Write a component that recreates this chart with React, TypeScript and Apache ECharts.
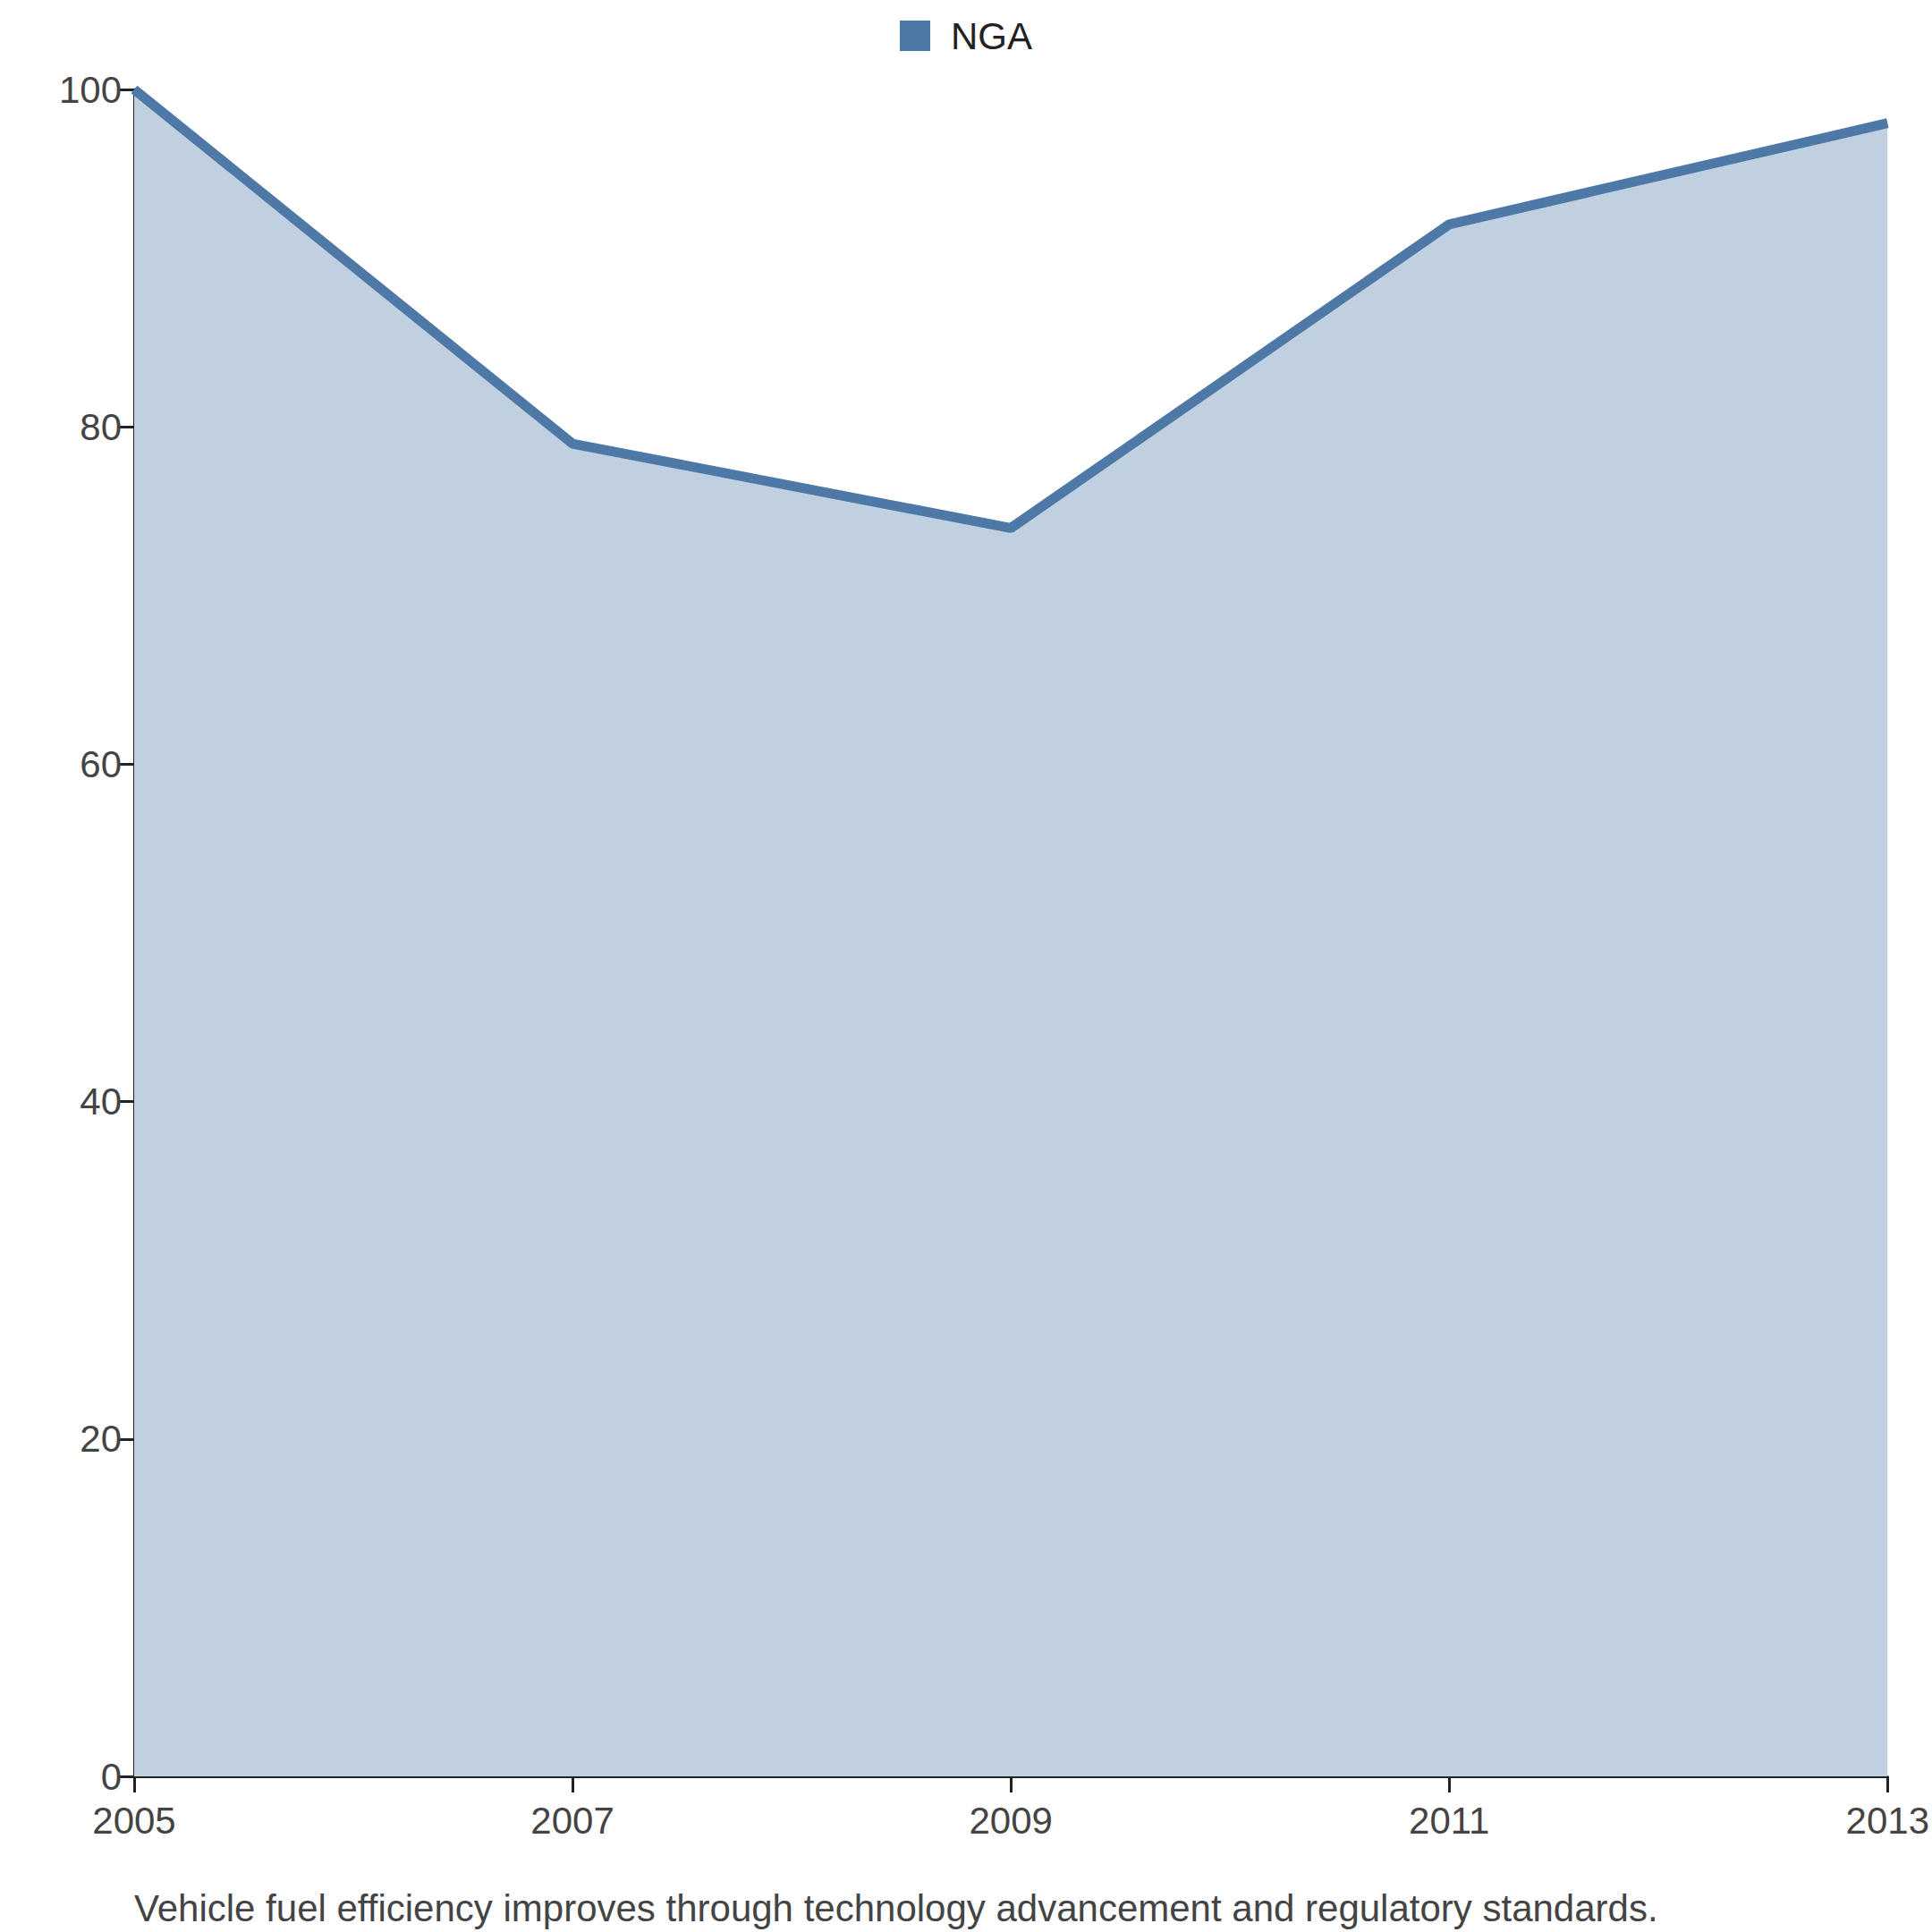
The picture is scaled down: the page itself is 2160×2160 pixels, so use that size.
import { useEffect, useRef } from 'react';
import * as echarts from 'echarts';

const years = ['2005', '2007', '2009', '2011', '2013'];
const nga = [100, 79, 74, 92, 98];
const yTicks = [0, 20, 40, 60, 80, 100];

export default function App() {
  const chartRef = useRef<HTMLDivElement>(null);
  useEffect(() => {
    document.body.style.margin = '0';
    if (!chartRef.current) return;
    const chart = echarts.init(chartRef.current, undefined, { renderer: 'svg' });
    const font = { fontFamily: 'Liberation Sans, Arial, sans-serif', fontSize: 42, color: '#444' };
    chart.setOption({
      animation: false,
      legend: {
        top: 14,
        left: 'center',
        icon: 'rect',
        itemWidth: 34,
        itemHeight: 34,
        itemGap: 20,
        textStyle: { ...font, color: '#222', padding: [0, 0, 0, 18] },
        data: ['NGA'],
      },
      grid: { left: 150, right: 30, top: 100, bottom: 174 },
      xAxis: {
        type: 'category',
        data: years,
        boundaryGap: false,
        axisLine: { lineStyle: { color: '#222', width: 3 } },
        axisTick: { length: 18, lineStyle: { color: '#222', width: 3 } },
        axisLabel: { ...font, margin: 28 },
      },
      yAxis: {
        type: 'value',
        min: 0,
        max: 100,
        interval: 20,
        splitLine: { show: false },
        axisLine: { show: true, lineStyle: { color: '#222', width: 3 } },
        axisTick: { show: true, length: 18, lineStyle: { color: '#222', width: 3 } },
        axisLabel: { ...font, margin: 14, formatter: (v: number) => (yTicks.includes(v) ? String(v) : '') },
      },
      graphic: [
        {
          type: 'text',
          left: 150,
          top: 2112,
          style: {
            text: 'Vehicle fuel efficiency improves through technology advancement and regulatory standards.',
            font: '42px Liberation Sans, Arial, sans-serif',
            fill: '#444',
          },
        },
      ],
      series: [
        {
          name: 'NGA',
          type: 'line',
          data: nga,
          symbol: 'none',
          itemStyle: { color: '#4e79a7' },
          lineStyle: { color: '#4e79a7', width: 11 },
          areaStyle: { color: '#c0d0e1', opacity: 1 },
        },
      ],
    });
    return () => chart.dispose();
  }, []);
  return <div ref={chartRef} style={{ width: 2160, height: 2160 }} />;
}
